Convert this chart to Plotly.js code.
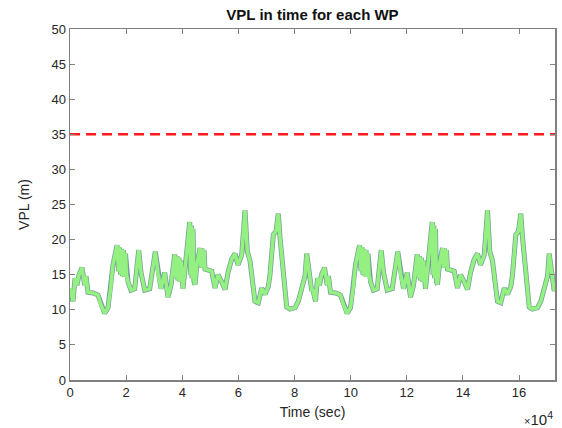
<!DOCTYPE html>
<html>
<head>
<meta charset="utf-8">
<script src="https://cdn.plot.ly/plotly-3.0.1.min.js"></script>
<style>
  html, body { margin: 0; padding: 0; background: #ffffff; }
  #chart { width: 562px; height: 428px; }
</style>
</head>
<body>
<div id="chart"></div>
<script>
// Vertical protection level over two days of waypoints
const timeSec = [
  0, 530, 1070, 1780, 2490, 3210, 4280, 5240, 5700, 6410, 8200, 9980, 11050, 12360, 13540, 14500,
  15320, 16750, 17280, 17640, 17990, 18350, 18700, 19060, 19420, 19770, 20130, 20670, 21730, 23050,
  24480, 25300, 26620, 28400, 30390, 31350, 32420, 33740, 34920, 35990, 37300, 37770, 38120, 38480,
  38840, 39190, 39550, 40260, 41330, 42650, 42930, 43220, 43470, 43820, 44180, 44540, 45250, 46320,
  46680, 47030, 47390, 47750, 48100, 48710, 50490, 51660, 52730, 54050, 55230, 56300, 57610, 58790,
  59860, 61180, 62350, 63170, 64130, 65310, 65910, 67090, 68300, 69480, 70650, 71260, 72440, 73400,
  74220, 74820, 75780, 76600, 77210, 78390, 80170, 81340, 82550, 83730, 84330, 85260, 86120,
  86400, 86930, 87470, 88180, 88890, 89610, 90680, 91640, 92100, 92810, 94600, 96380, 97450, 98760,
  99940, 100900, 101720, 103150, 103680, 104040, 104390, 104750, 105100, 105460, 105820, 106170,
  106530, 107070, 108130, 109450, 110880, 111700, 113020, 114800, 116790, 117750, 118820, 120140,
  121320, 122390, 123700, 124170, 124520, 124880, 125240, 125590, 125950, 126660, 127730, 129050,
  129330, 129620, 129870, 130220, 130580, 130940, 131650, 132720, 133080, 133430, 133790, 134150,
  134500, 135110, 136890, 138060, 139130, 140450, 141630, 142700, 144010, 145190, 146260, 147580,
  148750, 149570, 150530, 151710, 152310, 153490, 154700, 155880, 157050, 157660, 158840, 159800,
  160620, 161220, 162180, 163000, 163610, 164790, 166570, 167740, 168950, 170130, 170730, 171660,
  172520, 172800
];

const vplMeters = [
  13.0, 12.2, 11.2, 14.5, 13.5, 15.0, 16.0, 13.5, 14.8, 12.5, 12.4, 12.1, 10.7, 9.5, 10.3, 13.1,
  16.4, 19.2, 15.5, 18.9, 15.0, 18.6, 14.8, 18.5, 14.7, 18.0, 15.0, 14.0, 12.8, 13.0,
  18.5, 15.3, 12.8, 13.0, 18.3, 15.2, 13.0, 15.3, 11.8, 13.5, 17.9, 14.5, 17.6, 14.2,
  17.4, 14.0, 17.0, 13.0, 17.0, 22.5, 15.0, 22.0, 14.5, 21.5, 14.0, 13.6, 16.5, 18.8,
  16.0, 18.7, 16.0, 18.5, 15.8, 15.7, 15.5, 13.1, 15.0, 14.0, 12.9, 15.3, 17.2, 18.0,
  16.4, 17.8, 24.2, 18.3, 17.0, 13.1, 11.2, 11.0, 13.1, 12.2, 13.3, 15.0, 20.7, 21.2,
  23.7, 20.3, 16.4, 12.7, 10.4, 10.1, 10.3, 11.2, 13.1, 14.8, 18.0, 15.3, 12.7,
  13.0, 12.2, 11.2, 14.5, 13.5, 15.0, 16.0, 13.5, 14.8, 12.5, 12.4, 12.1, 10.7, 9.5,
  10.3, 13.1, 16.4, 19.2, 15.5, 18.9, 15.0, 18.6, 14.8, 18.5, 14.7, 18.0,
  15.0, 14.0, 12.8, 13.0, 18.5, 15.3, 12.8, 13.0, 18.3, 15.2, 13.0, 15.3,
  11.8, 13.5, 17.9, 14.5, 17.6, 14.2, 17.4, 14.0, 17.0, 13.0, 17.0, 22.5,
  15.0, 22.0, 14.5, 21.5, 14.0, 13.6, 16.5, 18.8, 16.0, 18.7, 16.0, 18.5,
  15.8, 15.7, 15.5, 13.1, 15.0, 14.0, 12.9, 15.3, 17.2, 18.0, 16.4, 17.8,
  24.2, 18.3, 17.0, 13.1, 11.2, 11.0, 13.1, 12.2, 13.3, 15.0, 20.7, 21.2,
  23.7, 20.3, 16.4, 12.7, 10.4, 10.1, 10.3, 11.2, 13.1, 14.8, 18.0, 15.3,
  12.7, 13.0
];

// Alert limit and axis range
const alertLimit = 35;
const timeRange = [0, 172800];
const xTickVals = [0, 20000, 40000, 60000, 80000, 100000, 120000, 140000, 160000];
const xTickText = ['0', '2', '4', '6', '8', '10', '12', '14', '16'];
const yTickVals = [0, 5, 10, 15, 20, 25, 30, 35, 40, 45, 50];

const fontFamily = 'Liberation Sans, Arial, sans-serif';
const axisGray = '#808080';
const textColor = '#262626';

const traces = [
  {
    // thin bluish edge drawn under the main line
    x: timeSec, y: vplMeters, type: 'scatter', mode: 'lines',
    line: { color: '#75a09a', width: 5 },
    hoverinfo: 'skip', showlegend: false
  },
  {
    x: timeSec, y: vplMeters, type: 'scatter', mode: 'lines',
    name: 'VPL',
    line: { color: '#94f080', width: 3.5 },
    showlegend: false
  },
  {
    x: timeRange, y: [alertLimit, alertLimit], type: 'scatter', mode: 'lines',
    name: 'VAL',
    line: { color: '#ff1a1a', width: 2.5, dash: '10px,6px' },
    showlegend: false
  }
];

const axisCommon = {
  showline: true, linecolor: axisGray, linewidth: 1.5, mirror: 'ticks',
  ticks: 'inside', ticklen: 5, tickcolor: axisGray, tickwidth: 1,
  showgrid: false, zeroline: false,
  tickfont: { family: fontFamily, size: 13, color: textColor }
};

const layout = {
  width: 562, height: 428,
  margin: { l: 70, r: 7, t: 29, b: 48 },
  paper_bgcolor: '#ffffff', plot_bgcolor: '#ffffff',
  title: {
    text: '<b>VPL in time for each WP</b>',
    font: { family: fontFamily, size: 15, color: '#111111' },
    x: 0.5, xref: 'paper', xanchor: 'center',
    y: 1 - 15 / 428, yanchor: 'middle'
  },
  xaxis: Object.assign({}, axisCommon, {
    range: timeRange,
    tickmode: 'array', tickvals: xTickVals, ticktext: xTickText,
    title: { text: 'Time (sec)', font: { family: fontFamily, size: 14, color: textColor }, standoff: 8 }
  }),
  yaxis: Object.assign({}, axisCommon, {
    range: [0, 50],
    tickmode: 'array', tickvals: yTickVals,
    title: { text: 'VPL (m)', font: { family: fontFamily, size: 14, color: textColor }, standoff: 18 }
  }),
  annotations: [
    {
      text: '<span style="font-size:11px">\u00d7</span>10<sup>4</sup>', xref: 'paper', yref: 'paper',
      x: 1.0, y: -0.11, xanchor: 'right', yanchor: 'middle', showarrow: false,
      font: { family: fontFamily, size: 15, color: textColor }
    }
  ]
};

Plotly.newPlot('chart', traces, layout, { displayModeBar: false, staticPlot: true });
</script>
</body>
</html>
